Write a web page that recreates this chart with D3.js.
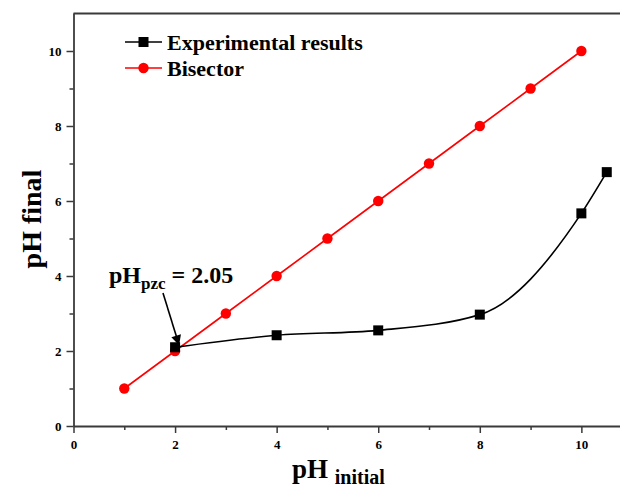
<!DOCTYPE html>
<html>
<head>
<meta charset="utf-8">
<script src="https://cdn.jsdelivr.net/npm/d3@7"></script>
<style>
  html, body { margin: 0; padding: 0; background: #fff; }
  svg { display: block; }
  text { font-family: "Liberation Serif", "Times New Roman", serif; font-weight: bold; fill: #000; }
</style>
</head>
<body>
<svg id="chart" width="620" height="488"></svg>
<script>
// Experimental point-of-zero-charge measurements
const expInitial = [2.0, 4.0, 6.0, 8.0, 10.0, 10.5];
const expFinal   = [2.1, 2.42, 2.55, 2.97, 5.67, 6.77];

// Bisector reference (pH final = pH initial)
const bisInitial = [1, 2, 3, 4, 5, 6, 7, 8, 9, 10];
const bisFinal   = [1, 2, 3, 4, 5, 6, 7, 8, 9, 10];

const xTicks = [0, 2, 4, 6, 8, 10];
const yTicks = [0, 2, 4, 6, 8, 10];
const seriesNames = ["Experimental results", "Bisector"];
const pzcValue = 2.05;

const svg = d3.select("#chart");

const x = d3.scaleLinear().domain([0, 10.8]).range([73.5, 622]);
const y = d3.scaleLinear().domain([0, 11]).range([426, 13.5]);

const axisColor = "#3a3a3a";
const tickFont = g => g.selectAll(".tick text")
  .style("font-size", "13px").style("font-family", "Liberation Serif").style("font-weight", "bold");

// Top frame line
svg.append("line")
  .attr("x1", x(0)).attr("x2", 620)
  .attr("y1", y(11)).attr("y2", y(11))
  .attr("stroke", axisColor).attr("stroke-width", 1.8);

// Minor ticks (odd values)
const xMinor = d3.range(1, 11, 2);
const yMinor = d3.range(1, 11, 2);
const gx = svg.append("g").attr("transform", `translate(0,${y(0)})`);
gx.call(d3.axisBottom(x).tickValues(xMinor).tickSize(4).tickFormat(""));
gx.selectAll(".tick line").attr("stroke", axisColor).attr("stroke-width", 1.5);
gx.select(".domain").remove();

// Major x axis
const gx2 = svg.append("g").attr("transform", `translate(0,${y(0)})`);
gx2.call(d3.axisBottom(x).tickValues(xTicks).tickSize(7).tickPadding(7).tickFormat(d3.format("d")));
gx2.select(".domain").attr("stroke", axisColor).attr("stroke-width", 1.8)
  .attr("d", `M${x(0)},0.5H620`);
gx2.selectAll(".tick line").attr("stroke", axisColor).attr("stroke-width", 1.5);
gx2.call(tickFont);

const gy = svg.append("g").attr("transform", `translate(${x(0)},0)`);
gy.call(d3.axisLeft(y).tickValues(yMinor).tickSize(4).tickFormat(""));
gy.selectAll(".tick line").attr("stroke", axisColor).attr("stroke-width", 1.5);
gy.select(".domain").remove();

// Major y axis
const gy2 = svg.append("g").attr("transform", `translate(${x(0)},0)`);
gy2.call(d3.axisLeft(y).tickValues(yTicks).tickSize(7).tickPadding(5).tickFormat(d3.format("d")));
gy2.select(".domain").attr("stroke", axisColor).attr("stroke-width", 1.8)
  .attr("d", `M0.5,${y(0)}V${y(11)}`);
gy2.selectAll(".tick line").attr("stroke", axisColor).attr("stroke-width", 1.5);
gy2.call(tickFont);

// Bisector line and markers
const bis = bisInitial.map((v, i) => [v, bisFinal[i]]);
svg.append("path")
  .datum(bis)
  .attr("fill", "none").attr("stroke", "#ff0000").attr("stroke-width", 1.6)
  .attr("d", d3.line().x(d => x(d[0])).y(d => y(d[1])));
svg.append("g").selectAll("circle").data(bis).join("circle")
  .attr("cx", d => x(d[0])).attr("cy", d => y(d[1])).attr("r", 5.2)
  .attr("fill", "#ff0000");

// Experimental smoothed curve and markers
const exp = expInitial.map((v, i) => [v, expFinal[i]]);
svg.append("path")
  .datum(exp)
  .attr("fill", "none").attr("stroke", "#000").attr("stroke-width", 1.6)
  .attr("d", d3.line().curve(d3.curveMonotoneX).x(d => x(d[0])).y(d => y(d[1])));
svg.append("g").selectAll("rect").data(exp).join("rect")
  .attr("x", d => x(d[0]) - 5).attr("y", d => y(d[1]) - 5)
  .attr("width", 10).attr("height", 10).attr("fill", "#000");

// Legend
const legend = svg.append("g");
const legendRows = [
  { name: seriesNames[0], color: "#000", shape: "square", yPos: 42 },
  { name: seriesNames[1], color: "#ff0000", shape: "circle", yPos: 68 }
];
legendRows.forEach(r => {
  legend.append("line").attr("x1", 125).attr("x2", 162)
    .attr("y1", r.yPos).attr("y2", r.yPos)
    .attr("stroke", r.color).attr("stroke-width", 1.6);
  if (r.shape === "square") {
    legend.append("rect").attr("x", 138.5).attr("y", r.yPos - 5)
      .attr("width", 10).attr("height", 10).attr("fill", r.color);
  } else {
    legend.append("circle").attr("cx", 143.5).attr("cy", r.yPos).attr("r", 5.2).attr("fill", r.color);
  }
  legend.append("text").attr("x", 167).attr("y", r.yPos + 7.5)
    .style("font-size", "22px").text(r.name);
});

// pHpzc annotation with arrow
svg.append("defs").append("marker")
  .attr("id", "arrowhead").attr("viewBox", "0 0 10 10")
  .attr("refX", 10).attr("refY", 5)
  .attr("markerWidth", 11).attr("markerHeight", 10)
  .attr("markerUnits", "userSpaceOnUse")
  .attr("orient", "auto")
  .append("path").attr("d", "M0,0L10,5L0,10Z").attr("fill", "#000");

svg.append("line")
  .attr("x1", 163).attr("y1", 293)
  .attr("x2", x(pzcValue) + 1.5).attr("y2", y(2.1) - 2)
  .attr("stroke", "#000").attr("stroke-width", 1.6)
  .attr("marker-end", "url(#arrowhead)");

const ann = svg.append("text").attr("x", 109).attr("y", 283).style("font-size", "24px");
ann.append("tspan").text("pH");
ann.append("tspan").attr("dy", 6).style("font-size", "17px").text("pzc");
ann.append("tspan").attr("dy", -6).text(` = ${pzcValue.toFixed(2)}`);

// Axis titles
const xt = svg.append("text").attr("x", 292).attr("y", 478).style("font-size", "27px");
xt.append("tspan").text("pH ");
xt.append("tspan").attr("dy", 6).style("font-size", "20px").text("initial");

svg.append("text")
  .attr("transform", "translate(41,219) rotate(-90)")
  .attr("text-anchor", "middle")
  .style("font-size", "28px")
  .text("pH final");
</script>
</body>
</html>
